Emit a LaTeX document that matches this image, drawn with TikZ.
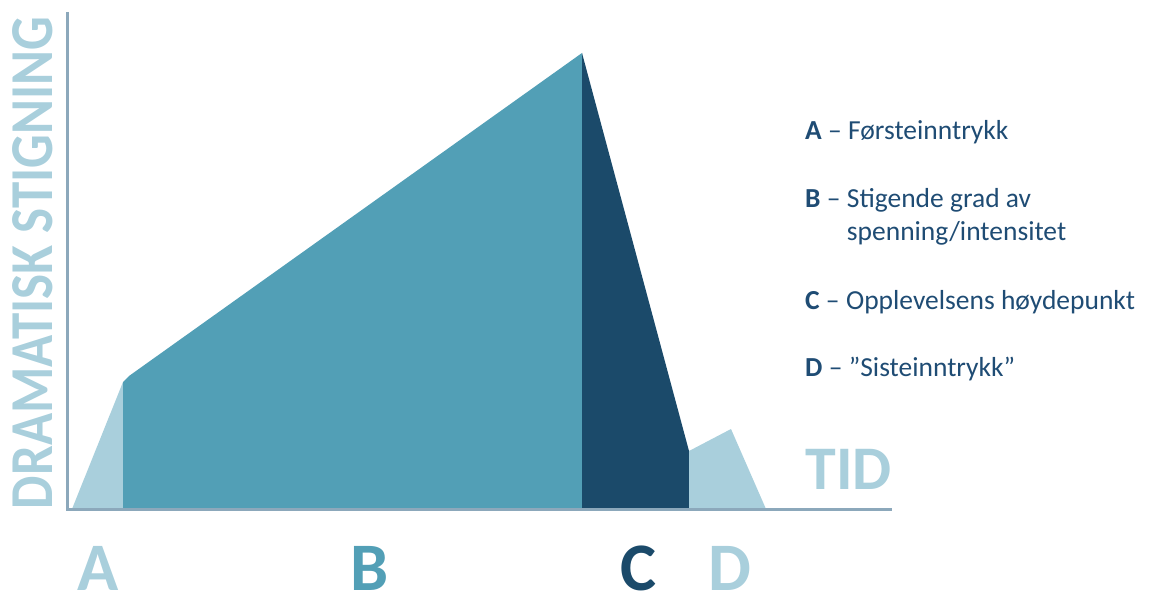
\documentclass[tikz,border=0pt]{standalone}
\usepackage{fontspec}
\setmainfont{Carlito}
\usetikzlibrary{positioning}
\definecolor{PhaseLight}{HTML}{A9CFDC}
\definecolor{PhaseMid}{HTML}{529FB6}
\definecolor{PhaseDark}{HTML}{1B4A6A}
\definecolor{AxisInk}{HTML}{8CA8BB}
\definecolor{LegendInk}{HTML}{1F4C74}
\tikzset{
  axisline/.style={line width=3pt, draw=AxisInk},
  bigletter/.style={font=\fontsize{68}{68}\selectfont\bfseries, inner sep=0pt, anchor=base},
  axislabel/.style={font=\fontsize{62}{62}\selectfont\bfseries, text=PhaseLight, inner sep=0pt},
  legkey/.style={font=\fontsize{27.5}{30}\selectfont, text=LegendInk, inner sep=0pt, anchor=base west},
  legtxt/.style={font=\fontsize{27.5}{30}\selectfont, text=LegendInk, inner sep=0pt},
}

\begin{document}
\begin{tikzpicture}[x=1pt, y=-1pt]
\useasboundingbox (0,0) rectangle (1152,612);
\coordinate (origin) at (67,509);
\coordinate (ytop) at (67,12);
\coordinate (xend) at (892,509);
\coordinate (start) at (72,509);
\coordinate (rise) at (123,382);
\coordinate (bend) at (129,376);
\coordinate (peak) at (582,53);
\coordinate (drop) at (689,451);
\coordinate (echo) at (731,429);
\coordinate (stop) at (766,509);
\fill[PhaseLight] (start) -- (rise) -- (rise |- origin) -- cycle;
\fill[PhaseMid] (rise |- origin) -- (rise) -- (bend) -- (peak) -- (peak |- origin) -- cycle;
\fill[PhaseDark] (peak |- origin) -- (peak) -- (drop) -- (drop |- origin) -- cycle;
\fill[PhaseLight] (drop |- origin) -- (drop) -- (echo) -- (stop) -- cycle;
\draw[axisline] (ytop) -- (origin |- xend) -- (xend);
\node[axislabel, font=\fontsize{53}{53}\selectfont\bfseries, rotate=90, anchor=base] (ylabel) at (52,263) {\scalebox{1}[1.15]{DRAMATISK STIGNING}};
\node[axislabel, anchor=base east] (xlabel) at (892,489) {TID};
\node[bigletter, text=PhaseLight] (lblA) at (98,590) {A};
\node[bigletter, text=PhaseMid] (lblB) at (370,590) {B};
\node[bigletter, text=PhaseDark] (lblC) at (638,590) {C};
\node[bigletter, text=PhaseLight] (lblD) at (730,590) {D};
\node[legkey] (keyA) at (805,140) {\textbf{A} –};
\node[legtxt, right=6pt of keyA.base east, anchor=base west] (txtA) {Førsteinntrykk};
\node[legkey] (keyB) at (805,208) {\textbf{B} –};
\node[legtxt, right=6pt of keyB.base east, anchor=base west] (txtB) {Stigende grad av};
\node[legtxt, anchor=base west] (txtB2) at ([yshift=-33pt]txtB.base west) {spenning/intensitet};
\node[legkey] (keyC) at (805,310) {\textbf{C} –};
\node[legtxt, right=6pt of keyC.base east, anchor=base west] (txtC) {Opplevelsens høydepunkt};
\node[legkey] (keyD) at (805,377) {\textbf{D} –};
\node[legtxt, right=6pt of keyD.base east, anchor=base west] (txtD) {”Sisteinntrykk”};
\end{tikzpicture}
\end{document}
